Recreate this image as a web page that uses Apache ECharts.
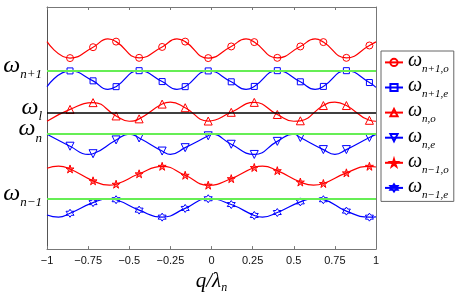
<!DOCTYPE html>
<html><head><meta charset="utf-8">
<script src="https://cdn.jsdelivr.net/npm/echarts@6/dist/echarts.min.js"></script>
<style>html,body{margin:0;padding:0;background:#fff}#c{width:457px;height:301px}</style>
</head><body><div id="c"></div>
<script>
// ---- data ----
const xTicks = [-1, -0.75, -0.5, -0.25, 0, 0.25, 0.5, 0.75, 1];
const xTickLabels = ['−1', '−0.75', '−0.5', '−0.25', '0', '0.25', '0.5', '0.75', '1'];
const markerQ = [-0.86, -0.72, -0.58, -0.44, -0.30, -0.16, -0.02, 0.12, 0.26, 0.40, 0.54, 0.68, 0.82, 0.96];
const levelValues = [73.7, 56.5, 47.5, 20.8];
const levelSubs = ['n+1', 'l', 'n', 'n−1'];
const seriesNames = ['n+1,o', 'n+1,e', 'n,o', 'n,e', 'n−1,o', 'n−1,e'];

// values read at the marker positions
const rcMarks = [78.9, 83.4, 85.7, 79.0, 83.5, 85.7, 78.9, 83.7, 85.5, 79.0, 83.7, 85.5, 79.0, 84.1];
const bsMarks = [73.6, 69.5, 67.1, 73.7, 69.2, 67.1, 73.6, 69.1, 67.2, 73.7, 69.1, 67.2, 73.7, 68.8];
const rtMarks = [57.7, 60.5, 55.0, 53.8, 59.9, 58.4, 52.9, 56.5, 60.6, 55.6, 53.0, 59.3, 59.3, 53.2];
const btMarks = [42.5, 39.4, 45.1, 45.9, 40.5, 41.9, 46.8, 43.3, 39.1, 44.5, 46.1, 41.1, 41.1, 46.1];
const rsMarks = [33.1, 28.2, 26.8, 31.1, 34.2, 30.5, 26.4, 29.1, 33.7, 32.4, 27.7, 27.1, 31.5, 34.2];
const bhMarks = [14.8, 19.2, 20.4, 16.1, 13.2, 16.8, 20.8, 18.4, 13.9, 15.1, 19.5, 20.4, 15.7, 13.2];

// other points (ends, crests, troughs) as [q, value]
const rcCurve = [[-1, 85.7], [-0.63, 86.8], [-0.21, 86.8], [0.21, 86.8], [0.63, 86.8], [1, 85.6]];
const bsCurve = [[-1, 67.1], [-0.63, 66.0], [-0.21, 66.0], [0.21, 66.0], [0.63, 66.0], [1, 66.8]];
const rtCurve = [[-1, 52.8], [-0.5, 52.8], [-0.25, 60.7], [0.5, 52.8], [0.75, 60.7], [1, 52.8]];
const btCurve = [[-1, 47.4], [-0.75, 39.1], [-0.5, 47.5], [-0.25, 39.1], [0, 47.5], [0.5, 47.5], [0.75, 39.1], [1, 47.4]];
const rsCurve = [[-1, 33.4], [-0.93, 34.3], [-0.62, 26.4], [0.31, 34.3], [0.62, 26.4], [1, 33.9]];
const bhCurve = [[-1, 14.1], [-0.93, 13.2], [-0.62, 20.8], [0.31, 13.2], [0.62, 20.8], [1, 13.3]];

// ---- styles ----
const RED = '#ff0000', BLUE = '#0000ff', GREEN = '#66ee55';
const SERIF = '"Liberation Serif", "DejaVu Serif", serif';
const STAR5 = 'path://M0,-10 L2.245,-3.09 L9.511,-3.09 L3.633,1.18 L5.878,8.09 L0,3.82 L-5.878,8.09 L-3.633,1.18 L-9.511,-3.09 L-2.245,-3.09 Z';
const HEX6 = 'path://M0,-10 L2.887,-5 L8.66,-5 L5.774,0 L8.66,5 L2.887,5 L0,10 L-2.887,5 L-8.66,5 L-5.774,0 L-8.66,-5 L-2.887,-5 Z';
const TRIDOWN = 'path://M-5,-4.3 L5,-4.3 L0,4.3 Z';

function buildData(marks, curve) {
  const pts = markerQ.map((q, i) => ({ value: [q, marks[i]] }));
  curve.forEach(p => pts.push({ value: [p[0], p[1]], symbol: 'none' }));
  pts.sort((a, b) => a.value[0] - b.value[0]);
  return pts;
}

function mkSeries(name, color, marks, curve, symbol, size, fill) {
  return {
    name: name, type: 'line', smooth: 0.5,
    symbol: symbol, symbolSize: size, showAllSymbol: true,
    lineStyle: { color: color, width: 1.2 },
    itemStyle: { color: fill || 'rgba(255,255,255,0)', borderColor: color, borderWidth: 1 },
    data: buildData(marks, curve), z: 3
  };
}

const series = [
  mkSeries(seriesNames[0], RED, rcMarks, rcCurve, 'circle', 7),
  mkSeries(seriesNames[1], BLUE, bsMarks, bsCurve, 'rect', 6),
  mkSeries(seriesNames[2], RED, rtMarks, rtCurve, 'triangle', 8),
  mkSeries(seriesNames[3], BLUE, btMarks, btCurve, TRIDOWN, 8),
  mkSeries(seriesNames[4], RED, rsMarks, rsCurve, STAR5, 8, 'rgba(255,0,0,0.55)'),
  mkSeries(seriesNames[5], BLUE, bhMarks, bhCurve, HEX6, 8)
];
series.push({
  name: 'levels', type: 'line', data: [], silent: true, z: 2,
  markLine: {
    symbol: 'none', silent: true, label: { show: false },
    data: levelValues.map((v, i) => ({ yAxis: v, lineStyle: { color: i === 1 ? '#000' : GREEN, width: i === 1 ? 1.6 : 2, type: 'solid' } }))
  }
});

const chart = echarts.init(document.getElementById('c'));
chart.setOption({
  animation: false,
  backgroundColor: '#fff',
  grid: { left: 47, right: 81, top: 7, bottom: 44 },
  legend: {
    data: seriesNames, orient: 'vertical', left: 381, top: 51,
    itemWidth: 18, itemHeight: 9, itemGap: 1.2, itemTextGap: 4,
    padding: [0, 5, 1, 3], borderColor: '#666', borderWidth: 1, backgroundColor: '#fff',
    formatter: n => '{w|ω}{s|' + n + '}',
    textStyle: {
      rich: {
        w: { fontFamily: SERIF, fontStyle: 'italic', fontSize: 20, padding: [1.6, 0, 4.4, 0], color: '#000' },
        s: { fontFamily: SERIF, fontStyle: 'italic', fontSize: 11, padding: [14.5, 0, 0.5, 0], color: '#000' }
      }
    }
  },
  xAxis: [{
    type: 'value', min: -1, max: 1, interval: 0.25,
    axisLine: { onZero: false, lineStyle: { color: '#777' } },
    axisTick: { inside: true, length: 3, lineStyle: { color: '#777' } },
    splitLine: { show: false },
    axisLabel: {
      margin: 6, fontFamily: '"Liberation Sans", Arial, sans-serif', fontSize: 11, color: '#111',
      formatter: v => { const i = xTicks.findIndex(t => Math.abs(t - v) < 1e-9); return i >= 0 ? xTickLabels[i] : ''; }
    },
    name: '{q|q/λ}{s|n}', nameLocation: 'middle', nameGap: 19,
    nameTextStyle: {
      rich: {
        q: { fontFamily: SERIF, fontStyle: 'italic', fontSize: 21, lineHeight: 20, padding: [0, 0, 4, 0], color: '#000' },
        s: { fontFamily: SERIF, fontStyle: 'italic', fontSize: 12, lineHeight: 12, padding: [10, 0, 2, 0], color: '#000' }
      }
    }
  }, {
    type: 'value', min: -1, max: 1, interval: 0.25, position: 'top',
    axisLine: { onZero: false, lineStyle: { color: '#777' } },
    axisTick: { inside: true, length: 3, lineStyle: { color: '#777' } },
    axisLabel: { show: false }, splitLine: { show: false }
  }],
  yAxis: [{
    type: 'value', min: 0, max: 100,
    axisLine: { show: true, onZero: false, lineStyle: { color: '#555' } },
    axisTick: { show: false }, splitLine: { show: false },
    axisLabel: {
      customValues: levelValues, margin: 5,
      formatter: v => { const i = levelValues.findIndex(t => Math.abs(t - v) < 1e-6); return i >= 0 ? '{w|ω}{s|' + levelSubs[i] + '}' : ''; },
      rich: {
        w: { fontFamily: SERIF, fontStyle: 'italic', fontSize: 24, lineHeight: 22, padding: [0, 0, 10.2, 0], color: '#000' },
        s: { fontFamily: SERIF, fontStyle: 'italic', fontSize: 13, lineHeight: 13, padding: [12.3, 0, 4.3, 0], color: '#000' }
      }
    }
  }, {
    type: 'value', min: 0, max: 100, position: 'right',
    axisLine: { show: true, onZero: false, lineStyle: { color: '#777' } },
    axisTick: { show: false }, axisLabel: { show: false }, splitLine: { show: false }
  }],
  series: series
});
</script>
</body></html>
